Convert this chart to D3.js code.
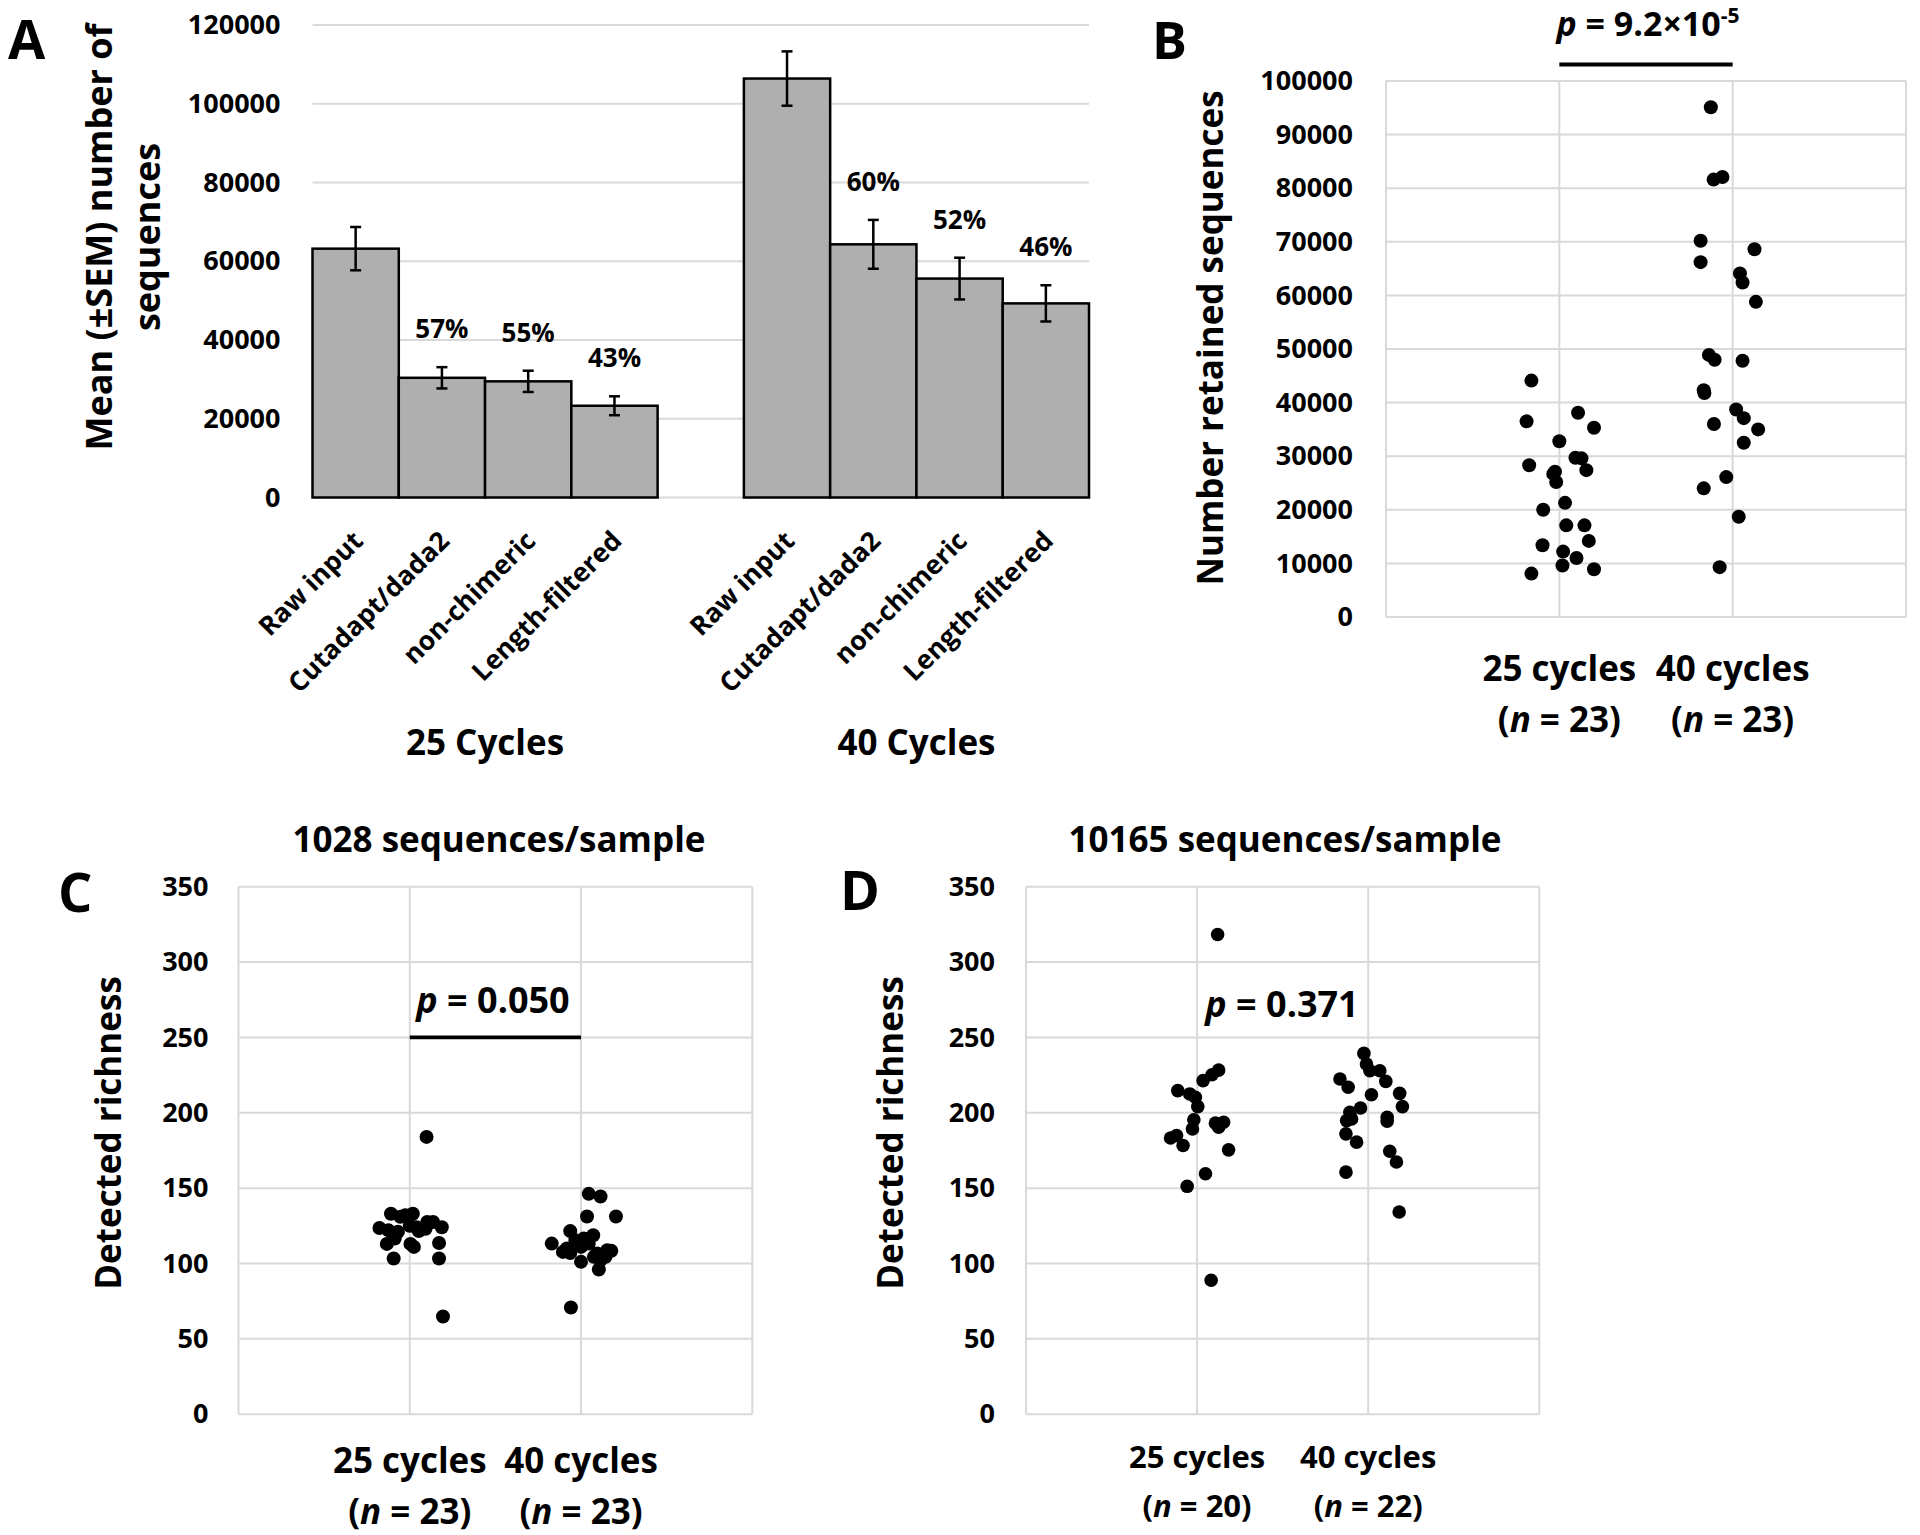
<!DOCTYPE html>
<html><head><meta charset="utf-8">
<script src="https://cdn.jsdelivr.net/npm/d3@7"></script>
<style>
body{margin:0;background:#fff}
svg{display:block}
text{font-family:"Open Sans",sans-serif;font-weight:700;fill:#000}
</style>
</head><body>
<svg id="c" width="1920" height="1535"></svg>
<script>
// ---------- DATA ----------
// Panel A
const stepLabels = ["Raw input", "Cutadapt/dada2", "non-chimeric", "Length-filtered"];
const groupLabels = ["25 Cycles", "40 Cycles"];
const mean25 = [63200, 30400, 29500, 23300];
const sem25  = [5500, 2700, 2700, 2400];
const mean40 = [106400, 64300, 55600, 49300];
const sem40  = [6900, 6200, 5300, 4600];
const pct25 = ["", "57%", "55%", "43%"];
const pct40 = ["", "60%", "52%", "46%"];
const ticksA = [0, 20000, 40000, 60000, 80000, 100000, 120000];

// Panel B : [x position (category 1 or 2 + jitter), retained sequences]
const b25 = [[0.839,44100],[0.811,36500],[1.108,38100],[1.200,35300],[1.000,32800],[0.826,28300],[1.093,29700],[1.128,29600],[1.156,27400],[0.965,26700],[0.975,27100],[0.982,25200],[1.033,21300],[0.907,20000],[1.040,17100],[1.145,17100],[1.170,14200],[0.903,13400],[1.022,12200],[1.099,11000],[1.018,9600],[1.200,8900],[0.839,8100]];
const b40 = [[1.874,95100],[1.890,81600],[1.941,82100],[1.815,70200],[2.126,68600],[1.815,66200],[2.042,64100],[2.057,62400],[2.134,58800],[1.863,48900],[1.896,48000],[2.057,47800],[1.833,42300],[1.837,41800],[2.020,38700],[2.064,37100],[1.892,36000],[2.147,35000],[2.064,32500],[1.963,26100],[1.833,24000],[2.035,18700],[1.925,9300]];
const ticksB = [0,10000,20000,30000,40000,50000,60000,70000,80000,90000,100000];

// Panel C : detected richness at 1028 sequences/sample
const c25 = [[1.098,184],[0.890,133],[0.974,132],[1.018,133],[0.823,123.5],[0.876,122],[0.931,121],[1.039,124],[1.092,123],[1.136,127.5],[1.187,124],[0.866,113],[1.024,111],[1.171,113.6],[0.906,103.3],[1.171,103.3],[1.194,64.8],[0.945,131],[1.000,125],[1.053,121.5],[0.912,116.5],[1.102,127.5],[1.004,113]];
const c40 = [[2.045,146.2],[2.114,144.4],[2.035,131.2],[2.204,131.2],[1.937,121.5],[2.071,118.7],[1.829,113.2],[1.894,107.7],[1.937,107],[2.000,111],[1.967,115.4],[2.045,113.2],[2.000,101.1],[2.094,106.6],[2.153,108.8],[2.177,108.4],[2.114,102.2],[2.104,96],[1.941,70.8],[2.075,104.4],[2.143,104.4],[2.016,116.5],[1.917,109.9]];

// Panel D : detected richness at 10165 sequences/sample
const d25 = [[1.120,318.3],[1.126,228.3],[1.087,225.2],[1.035,221.3],[0.887,214.7],[0.957,212.5],[0.990,210.3],[1.004,204.1],[0.981,195.3],[0.973,189.3],[1.107,193.1],[1.155,193.7],[0.845,183.3],[0.880,184.9],[0.918,178.3],[1.184,175.4],[1.049,159.5],[0.942,151.2],[1.082,88.9],[1.126,190.4]];
const d40 = [[1.975,239.4],[1.990,232.3],[2.010,227.9],[2.068,227.9],[2.103,220.8],[1.835,222.4],[1.883,216.9],[2.184,212.9],[2.200,204.1],[2.019,212.0],[1.955,203.2],[1.893,200.3],[1.874,194.8],[1.903,195.9],[2.111,197.0],[2.111,194.4],[1.870,186.0],[1.932,180.5],[2.126,174.5],[2.165,167.3],[1.870,160.6],[2.181,134.2]];
const ticksCD = [0,50,100,150,200,250,300,350];

const scatterCats = ["25 cycles", "40 cycles"];
const nB = [23, 23], nC = [23, 23], nD = [20, 22];

// ---------- DRAWING ----------
const svg = d3.select("#c");
const GRID = "#d9d9d9";

function styleAxis(g, size) {
  g.select(".domain").remove();
  g.selectAll(".tick line").remove();
  g.attr("font-family", null).attr("font-size", null);
  g.selectAll("text").style("font-size", size + "px").attr("fill", "#000");
}

// ===== Panel A =====
const slots = ["a0","a1","a2","a3","gap","b0","b1","b2","b3"];
const xA = d3.scaleBand().domain(slots).range([312.5, 1089]).padding(0);
const yA = d3.scaleLinear().domain([0, 120000]).range([497.5, 25]);
const gA = svg.append("g");

gA.selectAll("line.grid").data(ticksA).join("line")
  .attr("x1", xA.range()[0]).attr("x2", xA.range()[1])
  .attr("y1", d => yA(d)).attr("y2", d => yA(d))
  .attr("stroke", GRID).attr("stroke-width", 2);

const barsA = [];
stepLabels.forEach((s, i) => {
  barsA.push({slot: "a" + i, m: mean25[i], e: sem25[i], p: pct25[i], lab: s});
  barsA.push({slot: "b" + i, m: mean40[i], e: sem40[i], p: pct40[i], lab: s});
});

gA.selectAll("rect.bar").data(barsA).join("rect")
  .attr("x", d => xA(d.slot)).attr("width", xA.bandwidth())
  .attr("y", d => yA(d.m)).attr("height", d => yA(0) - yA(d.m))
  .attr("fill", "#afafaf").attr("stroke", "#000").attr("stroke-width", 2.5);

const eb = gA.selectAll("g.eb").data(barsA).join("g")
  .attr("transform", d => `translate(${xA(d.slot) + xA.bandwidth() / 2},0)`);
eb.append("line").attr("y1", d => yA(d.m - d.e)).attr("y2", d => yA(d.m + d.e))
  .attr("stroke", "#000").attr("stroke-width", 2.5);
eb.append("line").attr("x1", -5.5).attr("x2", 5.5).attr("y1", d => yA(d.m + d.e)).attr("y2", d => yA(d.m + d.e))
  .attr("stroke", "#000").attr("stroke-width", 2.5);
eb.append("line").attr("x1", -5.5).attr("x2", 5.5).attr("y1", d => yA(d.m - d.e)).attr("y2", d => yA(d.m - d.e))
  .attr("stroke", "#000").attr("stroke-width", 2.5);
eb.append("text").text(d => d.p)
  .attr("y", d => yA(d.m + d.e) - 29).attr("text-anchor", "middle")
  .style("font-size", "26px");

// rotated category labels
gA.selectAll("text.cat").data(barsA).join("text")
  .text(d => d.lab).attr("text-anchor", "end").style("font-size", "26.5px")
  .attr("transform", d => `translate(${xA(d.slot) + xA.bandwidth() / 2 + 9},${yA(0) + 45}) rotate(-45)`);

// group labels
[["a0","a3"],["b0","b3"]].forEach((p, i) => {
  const cx = (xA(p[0]) + xA(p[1]) + xA.bandwidth()) / 2;
  gA.append("text").text(groupLabels[i]).attr("x", cx).attr("y", 755)
    .attr("text-anchor", "middle").style("font-size", "35px");
});

const axA = gA.append("g").attr("transform", `translate(${xA.range()[0]},0)`)
  .call(d3.axisLeft(yA).tickValues(ticksA).tickFormat(d3.format("d")).tickSize(0).tickPadding(32));
styleAxis(axA, 27);

gA.append("text").attr("transform", "translate(112,237) rotate(-90)").attr("text-anchor", "middle")
  .style("font-size", "36px").text("Mean (±SEM) number of");
gA.append("text").attr("transform", "translate(160,237) rotate(-90)").attr("text-anchor", "middle")
  .style("font-size", "36px").text("sequences");
svg.append("text").attr("x", 8).attr("y", 59).style("font-size", "54px").text("A");

// ===== Scatter panels =====
function scatterPanel(o) {
  const g = svg.append("g");
  const x = d3.scaleLinear().domain([0, 3]).range(o.xr);
  const y = d3.scaleLinear().domain([0, o.ticks[o.ticks.length - 1]]).range(o.yr);
  g.selectAll("line.h").data(o.ticks).join("line")
    .attr("x1", o.xr[0]).attr("x2", o.xr[1]).attr("y1", d => y(d)).attr("y2", d => y(d))
    .attr("stroke", GRID).attr("stroke-width", 2);
  g.selectAll("line.v").data([0, 1, 2, 3]).join("line")
    .attr("x1", d => x(d)).attr("x2", d => x(d)).attr("y1", o.yr[0]).attr("y2", o.yr[1])
    .attr("stroke", GRID).attr("stroke-width", 2);
  const ax = g.append("g").attr("transform", `translate(${o.xr[0]},0)`)
    .call(d3.axisLeft(y).tickValues(o.ticks).tickFormat(d3.format("d")).tickSize(0).tickPadding(o.pad));
  styleAxis(ax, 27);
  g.selectAll("circle").data(o.pts).join("circle")
    .attr("cx", d => x(d[0])).attr("cy", d => y(d[1])).attr("r", o.r).attr("fill", "#000");
  // axis title
  g.append("text").attr("transform", `translate(${o.ylx},${o.yly}) rotate(-90)`)
    .attr("text-anchor", "middle").style("font-size", "35px").text(o.ylabel);
  // category labels
  scatterCats.forEach((c, i) => {
    g.append("text").attr("x", x(i + 1)).attr("y", o.cy1).attr("text-anchor", "middle")
      .style("font-size", o.cfs + "px").text(c);
    const t = g.append("text").attr("x", x(i + 1)).attr("y", o.cy2).attr("text-anchor", "middle")
      .style("font-size", o.cfs + "px");
    t.append("tspan").text("(");
    t.append("tspan").style("font-style", "italic").text("n");
    t.append("tspan").text(" = " + o.n[i] + ")");
  });
  if (o.title) {
    g.append("text").attr("x", o.titleX).attr("y", 852).attr("text-anchor", "middle")
      .style("font-size", "35px").text(o.title);
  }
  svg.append("text").attr("x", o.letter[1]).attr("y", o.letter[2])
    .style("font-size", o.letter[3] + "px").text(o.letter[0]);
  return {g, x, y};
}

// Panel B
const pB = scatterPanel({xr: [1386, 1906], yr: [617, 81], ticks: ticksB, pad: 33, pts: b25.concat(b40), r: 7,
  ylabel: "Number retained sequences", ylx: 1223, yly: 338, cy1: 681, cy2: 732, cfs: 35, n: nB,
  letter: ["B", 1152, 59, 52]});
pB.g.append("line").attr("x1", pB.x(1)).attr("x2", pB.x(2)).attr("y1", 64.5).attr("y2", 64.5)
  .attr("stroke", "#000").attr("stroke-width", 4);
{
  const t = pB.g.append("text").attr("x", 1648).attr("y", 36).attr("text-anchor", "middle").style("font-size", "34px");
  t.append("tspan").style("font-style", "italic").text("p");
  t.append("tspan").text(" = 9.2×10");
  t.append("tspan").attr("dy", -13).style("font-size", "21px").text("-5");
}

// Panel C
const pC = scatterPanel({xr: [238.5, 752.3], yr: [1414.2, 886.7], ticks: ticksCD, pad: 30, pts: c25.concat(c40), r: 7,
  ylabel: "Detected richness", ylx: 121, yly: 1133, cy1: 1473, cy2: 1524, cfs: 35, n: nC,
  title: "1028 sequences/sample", titleX: 499, letter: ["C", 58, 912, 54]});
pC.g.append("line").attr("x1", pC.x(1)).attr("x2", pC.x(2)).attr("y1", pC.y(250)).attr("y2", pC.y(250))
  .attr("stroke", "#000").attr("stroke-width", 3.8);
{
  const t = pC.g.append("text").attr("x", 493).attr("y", 1013).attr("text-anchor", "middle").style("font-size", "36px");
  t.append("tspan").style("font-style", "italic").text("p");
  t.append("tspan").text(" = 0.050");
}

// Panel D
const pD = scatterPanel({xr: [1026, 1539.3], yr: [1414.2, 886.7], ticks: ticksCD, pad: 31, pts: d25.concat(d40), r: 6.8,
  ylabel: "Detected richness", ylx: 903, yly: 1133, cy1: 1468, cy2: 1517, cfs: 31, n: nD,
  title: "10165 sequences/sample", titleX: 1285, letter: ["D", 840, 910, 54]});
{
  const t = pD.g.append("text").attr("x", 1282).attr("y", 1017).attr("text-anchor", "middle").style("font-size", "36px");
  t.append("tspan").style("font-style", "italic").text("p");
  t.append("tspan").text(" = 0.371");
}
</script>
</body></html>
